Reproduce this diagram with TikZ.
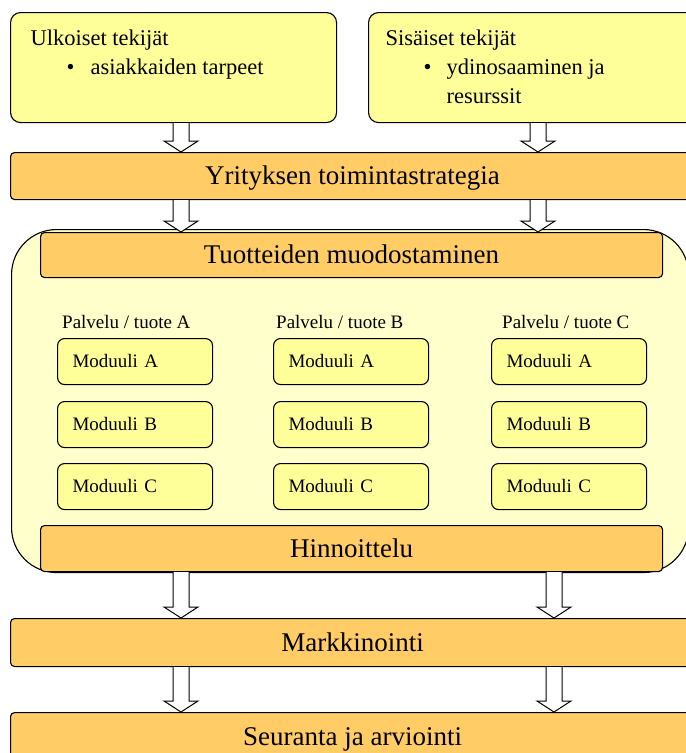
\documentclass[tikz,border=0pt]{standalone}
\usepackage{fontspec}
\setmainfont{Liberation Serif}
\usetikzlibrary{calc}
\definecolor{boxyellow}{RGB}{255,255,153}
\definecolor{paleyellow}{RGB}{255,255,204}
\definecolor{barorange}{RGB}{255,204,102}

\begin{document}
\begin{tikzpicture}
  [x=1pt, y=-1pt,
    every node/.style={inner sep=0pt},
    factorbox/.style={draw, line width=1.1pt, fill=boxyellow, rounded corners=10pt,
      anchor=north west, font=\fontsize{22.5}{29}\selectfont},
    stagebar/.style={draw, line width=1.1pt, fill=barorange, rounded corners=4pt,
      anchor=north west, text height=17.5pt, text depth=0pt, font=\fontsize{27}{30}\selectfont},
    modbox/.style={draw, line width=1.1pt, fill=boxyellow, rounded corners=7pt,
      anchor=north west, minimum height=46pt, inner xsep=15pt, text width=125pt, align=left,
      text height=12.5pt, text depth=0pt, font=\fontsize{19}{22}\selectfont},
    collabel/.style={anchor=base west, font=\fontsize{19}{22}\selectfont},
    fatarrow/.style={draw, line width=1pt, fill=white,
      to path={let \p1=(\tikztostart), \p2=(\tikztotarget) in
        ({\x1-8pt},\y1) -- ({\x1-8pt},{\y2+11pt}) -- ({\x1-17pt},{\y2+11pt}) -- (\x2,\y2)
        -- ({\x1+17pt},{\y2+11pt}) -- ({\x1+8pt},{\y2+11pt}) -- ({\x1+8pt},\y1)}},
  ]
  \useasboundingbox (0,0) rectangle (686,753);

  \node[factorbox] (ulk) at (10,12) {\parbox[b][110pt][t]{326pt}{%
      \hspace*{20pt}\rule{0pt}{33pt}Ulkoiset tekijät\\
      \hspace*{56pt}\makebox[24pt][l]{\textbullet}asiakkaiden tarpeet}};
  \node[factorbox] (sis) at (368,12) {\parbox[b][110pt][t]{332pt}{%
      \hspace*{17pt}\rule{0pt}{33pt}Sisäiset tekijät\\
      \hspace*{55pt}\makebox[23pt][l]{\textbullet}ydinosaaminen ja\\
      \hspace*{78pt}resurssit}};

  \node[stagebar, minimum width=684pt, minimum height=47pt] (strat) at (10,152) {Yrityksen toimintastrategia};

  \node[draw, line width=1.1pt, fill=paleyellow, rounded corners=45pt, anchor=north west,
    minimum width=677pt, minimum height=343pt] (tuotanto) at (11,229) {};
  \node[stagebar, minimum width=622pt, minimum height=45pt] (muod) at (40,232) {Tuotteiden muodostaminen};

  \node[collabel] (palA) at (62,328) {Palvelu / tuote A};
  \node[collabel] (palB) at (276,328) {Palvelu / tuote B};
  \node[collabel] (palC) at (502,328) {Palvelu / tuote C};
  \foreach \c/\x in {A/57,B/273,C/491}
    \foreach \m/\y in {A/338,B/401,C/463}
      \node[modbox] (mod\c\m) at (\x,\y) {Moduuli \m};

  \node[stagebar, minimum width=622pt, minimum height=46pt] (hinn) at (40,525) {Hinnoittelu};
  \node[stagebar, minimum width=684pt, minimum height=48pt] (mark) at (10,618) {Markkinointi};
  \node[stagebar, minimum width=684pt, minimum height=48pt] (seur) at (10,712) {Seuranta ja arviointi};

  \coordinate (colL) at (181,0);
  \coordinate (colR) at (538,0);
  \coordinate (colRb) at (554,0);

  \draw[fatarrow] (ulk.south -| colL) to (strat.north -| colL);
  \draw[fatarrow] (sis.south -| colR) to (strat.north -| colR);
  \draw[fatarrow] (strat.south -| colL) to (muod.north -| colL);
  \draw[fatarrow] (strat.south -| colR) to (muod.north -| colR);
  \draw[fatarrow] (hinn.south -| colL) to (mark.north -| colL);
  \draw[fatarrow] (hinn.south -| colRb) to (mark.north -| colRb);
  \draw[fatarrow] (mark.south -| colL) to (seur.north -| colL);
  \draw[fatarrow] (mark.south -| colRb) to (seur.north -| colRb);
\end{tikzpicture}
\end{document}
